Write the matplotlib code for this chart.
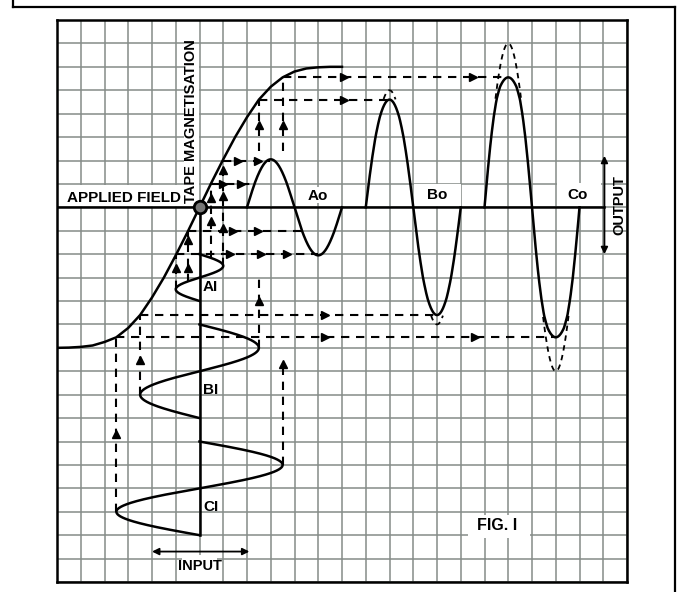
import numpy as np
import matplotlib
matplotlib.use('Agg')
import matplotlib.pyplot as plt
from matplotlib.patches import Rectangle
from matplotlib.lines import Line2D
from matplotlib import font_manager

# transfer characteristic (applied field -> tape magnetisation), grid units
curve_x = [-6, -5.5, -5, -4.5, -4, -3.5, -3, -2.5, -2, -1.5, -1, -0.5, 0,
           0.5, 1, 1.5, 2, 2.5, 3, 3.5, 4, 4.5, 5, 5.5, 6]
curve_y = [-6.0, -5.99, -5.96, -5.9, -5.75, -5.55, -5.15, -4.6, -3.85, -3.0, -2.05, -1.05, 0,
           1.05, 2.05, 3.0, 3.85, 4.6, 5.15, 5.55, 5.8, 5.93, 5.98, 6.0, 6.0]

# input sine waves AI, BI, CI (drawn downwards) and outputs Ao, Bo, Co
in_labels = ['AI', 'BI', 'CI']
out_labels = ['Ao', 'Bo', 'Co']
in_amp = [1.0, 2.5, 3.5]
in_start = [-2.0, -5.0, -10.0]
in_period = [2.0, 4.0, 4.0]
out_start = [2.0, 7.0, 12.0]
out_period = [4.0, 4.0, 4.0]
ideal_gain = 2.0

# dashed projection lines: (level, from, to, arrow positions)
h_lines = [(5.55, 3.5, 13.0, [6.1, 11.5]),
           (4.6, 2.5, 8.0, [6.1]),
           (2.0, 1.0, 2.95, [1.6, 2.45]),
           (1.0, 0.5, 2.3, [1.0, 1.75]),
           (-1.0, -0.5, 4.3, [1.4, 2.45]),
           (-2.0, -1.0, 5.0, [1.3, 2.6, 3.7]),
           (-4.6, -2.5, 10.0, [5.3]),
           (-5.55, -3.5, 15.05, [5.3, 11.6])]
v_lines = [(-3.5, -13.0, -5.55, [-9.7]),
           (-2.5, -8.0, -4.6, [-6.5]),
           (2.5, -6.0, -2.8, [-4.0]),
           (2.5, 2.4, 4.6, [3.5]),
           (3.5, -11.0, -6.6, [-6.7]),
           (3.5, 2.4, 5.55, [3.5]),
           (-1.0, -3.5, -2.0, [-2.6]),
           (-0.5, -3.2, -1.0, [-1.4, -2.6]),
           (0.5, -2.2, 1.0, [-0.6, 0.4]),
           (1.0, -2.5, 2.0, [-0.9, 0.5, 1.6])]

names = {f.name for f in font_manager.fontManager.ttflist}
lab_font = 'Liberation Sans' if 'Liberation Sans' in names else 'DejaVu Sans'

fig = plt.figure(figsize=(6.81, 5.92), dpi=100)
ax = fig.add_axes([57 / 681, 1 - 582 / 592, 570 / 681, 562 / 592])
ax.set_xlim(-6, 18)
ax.set_ylim(-16, 8)
ax.set_xticks(np.arange(-6, 19))
ax.set_yticks(np.arange(-16, 9))
ax.grid(True, color='#858b88', lw=1.1)
ax.set_axisbelow(True)
ax.tick_params(length=0, labelbottom=False, labelleft=False)
for s in ax.spines.values():
    s.set_linewidth(1.8)

# outer frame of the page
for xs, ys in [([13, 13], [0, 7]), ([13, 675], [7, 7]), ([675, 675], [7, 592])]:
    fig.add_artist(Line2D([x / 681 for x in xs], [1 - y / 592 for y in ys],
                          color='k', lw=1.6))

# white label backgrounds
for x0, y0, w, h in [(-5.96, 0.04, 5.92, 0.92), (-0.66, 0.04, 0.62, 6.9),
                     (4.45, 0.2, 1.15, 0.65), (9.05, 0.05, 1.95, 0.95),
                     (15.05, 0.05, 1.85, 1.0), (11.3, -14.1, 2.6, 0.95),
                     (-0.75, -15.95, 1.5, 1.1)]:
    ax.add_patch(Rectangle((x0, y0), w, h, fc='white', ec='none', zorder=1))

# axes of the diagram
ax.plot([-6, 17.05], [0, 0], color='k', lw=1.8, zorder=2)
ax.plot([0, 0], [0, -14], color='k', lw=1.8, zorder=2)

# transfer curve
ax.plot(curve_x, curve_y, color='k', lw=1.8, zorder=3)

dash = (0, (4, 3.2))
for y, x0, x1, arr in h_lines:
    ax.plot([x0, x1], [y, y], color='k', lw=1.5, ls=dash, zorder=3)
    ax.plot(arr, [y] * len(arr), ls='none', marker='>', ms=5.5, color='k', zorder=3)
for x, y0, y1, arr in v_lines:
    ax.plot([x, x], [y0, y1], color='k', lw=1.5, ls=dash, zorder=3)
    ax.plot([x] * len(arr), arr, ls='none', marker='^', ms=5.5, color='k', zorder=3)

t = np.linspace(0, 1, 400)
for i in range(3):
    x_in = in_amp[i] * np.sin(2 * np.pi * t)
    ax.plot(x_in, in_start[i] - in_period[i] * t, color='k', lw=1.8, zorder=3)
    y_out = np.interp(x_in, curve_x, curve_y)
    y_ideal = ideal_gain * x_in
    x_out = out_start[i] + out_period[i] * t
    ax.plot(x_out, y_out, color='k', lw=1.8, zorder=3)
    ideal = np.where(np.abs(y_ideal) - np.abs(y_out) > 0.3, y_ideal, np.nan)
    ax.plot(x_out, ideal, color='k', lw=1.3, ls=(0, (3, 2.5)), zorder=3)
    ax.text(0.15, in_start[i] - in_period[i] * 0.7, in_labels[i], fontsize=11,
            fontweight='bold', family=lab_font, ha='left', va='center', zorder=4)

ax.plot(0, 0, 'o', ms=9, mfc='#777777', mec='k', mew=2, zorder=5)

tk = dict(fontweight='bold', family=lab_font, color='k', zorder=4)
ax.text(-3.16, 0.38, 'APPLIED FIELD', fontsize=11, ha='center', va='center', **tk)
ax.text(-0.34, 3.7, 'TAPE MAGNETISATION', fontsize=10.5, rotation=90,
        ha='center', va='center', **tk)
ax.text(5.0, 0.5, out_labels[0], fontsize=11, ha='center', va='center', **tk)
ax.text(10.0, 0.52, out_labels[1], fontsize=11, ha='center', va='center', **tk)
ax.text(15.9, 0.52, out_labels[2], fontsize=11, ha='center', va='center', **tk)
ax.text(17.7, 0.1, 'OUTPUT', fontsize=10.5, rotation=90, ha='center', va='center', **tk)
ax.text(0.0, -15.3, 'INPUT', fontsize=10.5, ha='center', va='center', **tk)
ax.text(12.55, -13.6, 'FIG. I', fontsize=11.5, ha='center', va='center', **tk)

ax.annotate('', xy=(17.05, 2.2), xytext=(17.05, -2.0),
            arrowprops=dict(arrowstyle='<|-|>', color='k', lw=1.3,
                            mutation_scale=10, shrinkA=0, shrinkB=0), zorder=4)
ax.annotate('', xy=(-2.0, -14.7), xytext=(2.1, -14.7),
            arrowprops=dict(arrowstyle='<|-|>', color='k', lw=1.3,
                            mutation_scale=10, shrinkA=0, shrinkB=0), zorder=4)

fig.savefig('out.png', dpi=100)
